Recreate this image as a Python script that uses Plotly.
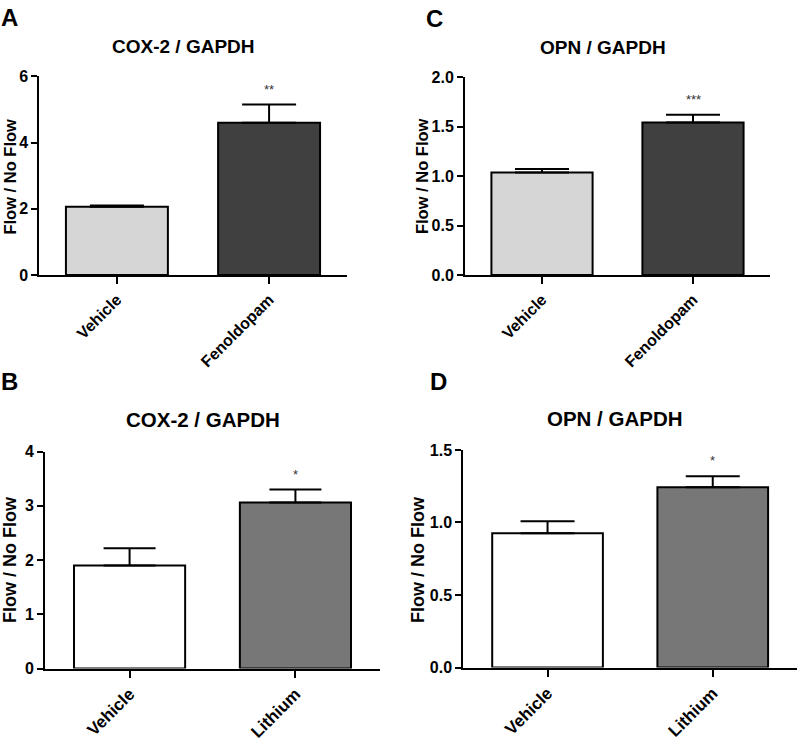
import plotly.graph_objects as go

W, H = 800, 742
FONT = "Liberation Sans, Arial, Helvetica, sans-serif"

# ---- data ----
groups_fen = ["Vehicle", "Fenoldopam"]
groups_li = ["Vehicle", "Lithium"]

cox2_fen_mean = [2.06, 4.60]
cox2_fen_sem = [0.04, 0.55]
opn_fen_mean = [1.036, 1.54]
opn_fen_sem = [0.035, 0.08]

cox2_li_mean = [1.90, 3.06]
cox2_li_sem = [0.32, 0.24]
opn_li_mean = [0.925, 1.242]
opn_li_sem = [0.084, 0.077]

sig_fen = ["", "**"]
sig_fen_opn = ["", "***"]
sig_li = ["", "*"]

panels = [
    dict(letter="A", title="COX-2 / GAPDH", groups=groups_fen, mean=cox2_fen_mean, sem=cox2_fen_sem,
         colors=["#d6d6d6", "#404040"], yr=[0, 6], dtick=2, tickfmt="d",
         xpx=(39.3, 346.7), ypx=(70, 273.3), sig=sig_fen, capw=27, fs=16,
         title_pos=(183, 39), title_fs=19, letter_pos=(9, 10), ytitle_pos=(10, 172.5), ytitle_fs=16.5),
    dict(letter="C", title="OPN / GAPDH", groups=groups_fen, mean=opn_fen_mean, sem=opn_fen_sem,
         colors=["#d6d6d6", "#404040"], yr=[0, 2], dtick=0.5, tickfmt=".1f",
         xpx=(465, 770), ypx=(70.7, 273.3), sig=sig_fen_opn, capw=27, fs=16,
         title_pos=(603, 40), title_fs=19, letter_pos=(434, 11), ytitle_pos=(421.5, 172.5), ytitle_fs=16.5),
    dict(letter="B", title="COX-2 / GAPDH", groups=groups_li, mean=cox2_li_mean, sem=cox2_li_sem,
         colors=["#ffffff", "#777777"], yr=[0, 4], dtick=1, tickfmt="d",
         xpx=(45, 380), ypx=(454, 676), sig=sig_li, capw=26, fs=17,
         title_pos=(203, 421.5), title_fs=20.5, letter_pos=(9, 382), ytitle_pos=(10, 565), ytitle_fs=18),
    dict(letter="D", title="OPN / GAPDH", groups=groups_li, mean=opn_li_mean, sem=opn_li_sem,
         colors=["#ffffff", "#777777"], yr=[0, 1.5], dtick=0.5, tickfmt=".1f",
         xpx=(463.3, 797), ypx=(452.3, 675), sig=sig_li, capw=27, fs=17,
         title_pos=(615, 420), title_fs=20.5, letter_pos=(439, 382), ytitle_pos=(418, 565), ytitle_fs=18),
]

fig = go.Figure()
annotations = []
layout = {}


def px2paper(px, py):
    return px / W, 1 - py / H


for i, p in enumerate(panels, start=1):
    xa = "x" if i == 1 else f"x{i}"
    ya = "y" if i == 1 else f"y{i}"
    fig.add_trace(go.Bar(
        x=p["groups"], y=p["mean"], width=0.67,
        marker=dict(color=p["colors"], line=dict(color="black", width=2)),
        error_y=dict(type="data", symmetric=False, array=p["sem"], arrayminus=[0, 0],
                     color="black", thickness=2, width=p["capw"]),
        xaxis=xa, yaxis=ya, showlegend=False, hoverinfo="skip",
    ))
    x0, y0 = px2paper(p["xpx"][0], p["ypx"][1])
    x1, y1 = px2paper(p["xpx"][1], p["ypx"][0])
    xkey = "xaxis" if i == 1 else f"xaxis{i}"
    ykey = "yaxis" if i == 1 else f"yaxis{i}"
    layout[xkey] = dict(
        domain=[x0, x1], anchor=ya, range=[-0.51, 1.51], type="category",
        showline=True, linecolor="black", linewidth=2, ticks="outside", ticklen=7,
        tickwidth=2, tickcolor="black", tickangle=-45, showgrid=False, zeroline=False,
        tickfont=dict(family=FONT, size=p["fs"], color="black", weight="bold"),
        fixedrange=True,
    )
    layout[ykey] = dict(
        domain=[y0, y1], anchor=xa, range=p["yr"], dtick=p["dtick"], tick0=0,
        tickformat=p["tickfmt"], showline=True, linecolor="black", linewidth=2,
        ticks="outside", ticklen=6, tickwidth=2, tickcolor="black", showgrid=False,
        zeroline=False, tickfont=dict(family=FONT, size=16, color="black", weight="bold"),
        fixedrange=True,
    )
    tx, ty = px2paper(*p["title_pos"])
    annotations.append(dict(text=f"<b>{p['title']}</b>", x=tx, y=ty, xref="paper", yref="paper",
                            xanchor="center", yanchor="middle", showarrow=False,
                            font=dict(family=FONT, size=p["title_fs"], color="black")))
    lx, ly = px2paper(*p["letter_pos"])
    annotations.append(dict(text=f"<b>{p['letter']}</b>", x=lx, y=ly, xref="paper", yref="paper",
                            xanchor="center", yanchor="middle", showarrow=False,
                            font=dict(family=FONT, size=24, color="black")))
    yx, yy = px2paper(*p["ytitle_pos"])
    annotations.append(dict(text="<b>Flow / No Flow</b>", x=yx, y=yy, xref="paper", yref="paper",
                            xanchor="center", yanchor="middle", showarrow=False, textangle=-90,
                            font=dict(family=FONT, size=p["ytitle_fs"], color="black")))
    for g, m, s, star in zip(p["groups"], p["mean"], p["sem"], p["sig"]):
        if star:
            annotations.append(dict(text=star, x=g, y=m + s, xref=xa, yref=ya,
                                    xanchor="center", yanchor="bottom", yshift=6, showarrow=False,
                                    font=dict(family=FONT, size=13, color="#333333")))

fig.update_layout(
    width=W, height=H, margin=dict(l=0, r=0, t=0, b=0),
    paper_bgcolor="white", plot_bgcolor="white",
    annotations=annotations, bargap=0.33, **layout,
)

post = ("document.body.style.margin='0';document.body.style.padding='0';"
        "document.documentElement.style.overflow='hidden';document.body.style.overflow='hidden';"
        "var d=document.getElementById('{plot_id}');d.style.position='absolute';"
        "d.style.left='0px';d.style.top='0px';")

fig.write_html("out.html", config={"displayModeBar": False}, post_script=post)
